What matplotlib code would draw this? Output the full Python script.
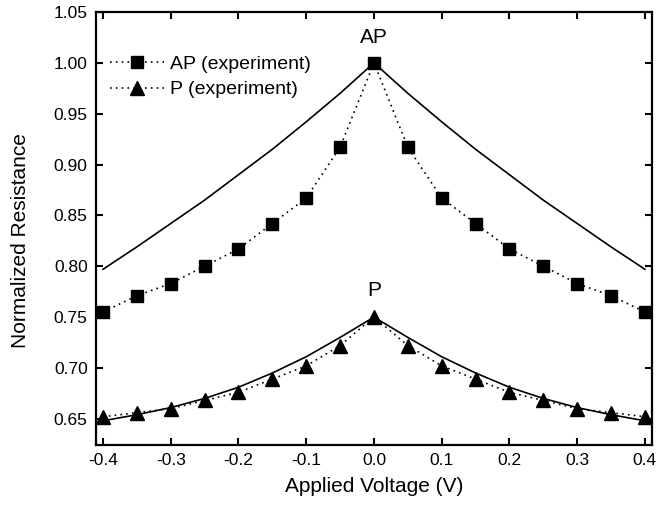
import numpy as np
import matplotlib
matplotlib.use("Agg")
from matplotlib import pyplot as plt

plt.rcParams['font.family'] = ['Liberation Sans', 'DejaVu Sans']
plt.rcParams['axes.unicode_minus'] = False

# voltage grid (V)
voltage = [-0.40, -0.35, -0.30, -0.25, -0.20, -0.15, -0.10, -0.05, 0.00,
           0.05, 0.10, 0.15, 0.20, 0.25, 0.30, 0.35, 0.40]

# experiment
ap_exp = [0.755, 0.771, 0.783, 0.800, 0.817, 0.842, 0.867, 0.917, 1.000,
          0.917, 0.867, 0.842, 0.817, 0.800, 0.783, 0.771, 0.755]
p_exp = [0.652, 0.656, 0.660, 0.668, 0.676, 0.689, 0.702, 0.722, 0.750,
         0.722, 0.702, 0.689, 0.676, 0.668, 0.660, 0.656, 0.652]

# theory (solid lines)
ap_theory = [0.797, 0.819, 0.842, 0.865, 0.890, 0.915, 0.942, 0.970, 1.000,
             0.970, 0.942, 0.915, 0.890, 0.865, 0.842, 0.819, 0.797]
p_theory = [0.648, 0.654, 0.661, 0.670, 0.681, 0.695, 0.711, 0.730, 0.750,
            0.730, 0.711, 0.695, 0.681, 0.670, 0.661, 0.654, 0.648]

xticks = [-0.4, -0.3, -0.2, -0.1, 0.0, 0.1, 0.2, 0.3, 0.4]
yticks = [0.65, 0.70, 0.75, 0.80, 0.85, 0.90, 0.95, 1.00, 1.05]

fig = plt.figure(figsize=(6.7, 5.08), dpi=100)
ax = fig.add_axes([0.1433, 0.124, 0.8297, 0.8524])

dots = (0, (1, 2.5))
ax.plot(voltage, ap_theory, color='black', lw=1.2)
ax.plot(voltage, p_theory, color='black', lw=1.2)
ax.plot(voltage, ap_exp, color='black', lw=1.2, ls=dots, marker='s',
        markersize=9, label='AP (experiment)')
ax.plot(voltage, p_exp, color='black', lw=1.2, ls=dots, marker='^',
        markersize=10, label='P (experiment)')

ax.text(0.0, 1.025, 'AP', ha='center', va='center', fontsize=15)
ax.text(0.0, 0.7765, 'P', ha='center', va='center', fontsize=15)

ax.set_xlim(-0.4103, 0.4103)
ax.set_ylim(0.6242, 1.0487)
ax.set_xticks(xticks)
ax.set_yticks(yticks)
ax.set_xticklabels(['%.1f' % v for v in xticks])
ax.set_yticklabels(['%.2f' % v for v in yticks])
ax.tick_params(direction='in', length=5, width=1.5, labelsize=12.5,
               top=True, right=True, pad=6)
for s in ax.spines.values():
    s.set_linewidth(1.6)

ax.set_xlabel('Applied Voltage (V)', fontsize=15)
ax.xaxis.set_label_coords(0.5, -0.074)
ax.set_ylabel('Normalized Resistance', fontsize=15)
ax.yaxis.set_label_coords(-0.119, 0.472)

ax.legend(loc='upper left', bbox_to_anchor=(0.0, 0.931), frameon=False,
          fontsize=14, handlelength=2.8, handletextpad=0.3,
          labelspacing=0.4, borderaxespad=0.3)

plt.savefig('out.png')
